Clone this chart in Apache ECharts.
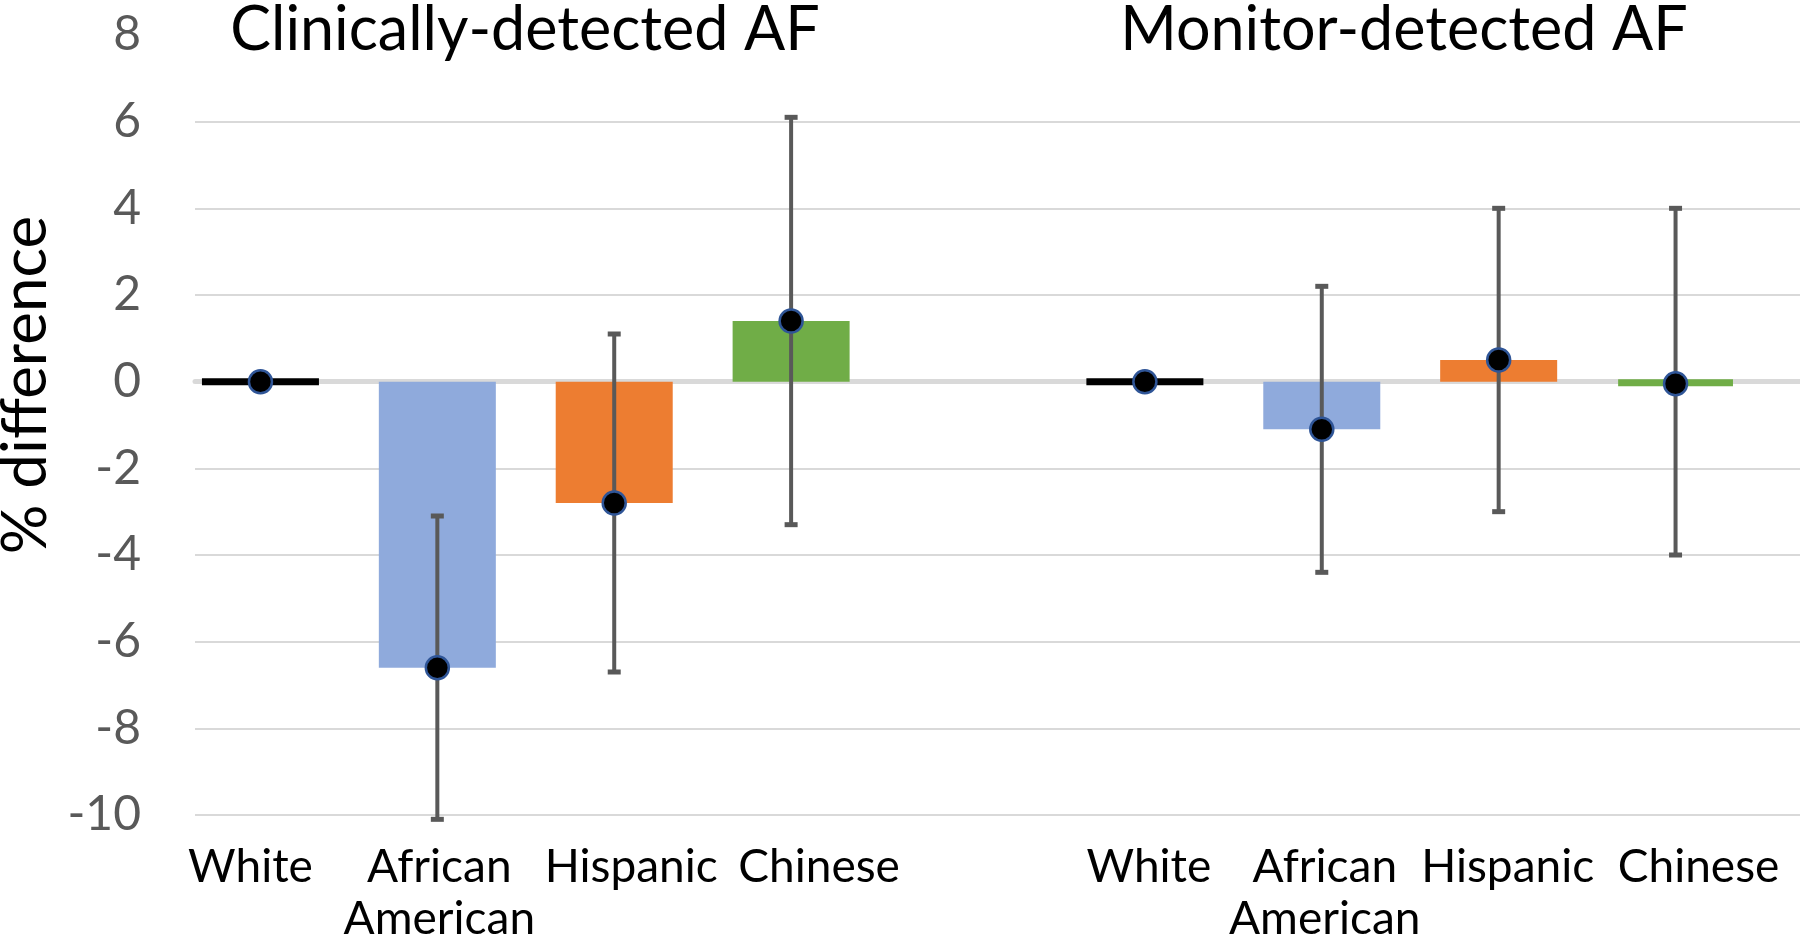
<!DOCTYPE html>
<html>
<head>
<meta charset="utf-8">
<title>AF % difference by race</title>
<script src="https://cdn.jsdelivr.net/npm/echarts@6/dist/echarts.min.js"></script>
<style>
html, body { margin: 0; padding: 0; background: #fff; }
#main { width: 1800px; height: 939px; }
</style>
</head>
<body>
<div id="main"></div>
<script>
// values
var panelTitles = ['Clinically-detected AF', 'Monitor-detected AF'];
var races = ['White', 'African\nAmerican', 'Hispanic', 'Chinese'];
var raceColors = ['#000000', '#8FAADC', '#ED7D31', '#70AD47'];

var clinicalEst = [0, -6.6, -2.8, 1.4];
var clinicalLow = [null, -10.1, -6.7, -3.3];
var clinicalHigh = [null, -3.1, 1.1, 6.1];

var monitorEst = [0, -1.1, 0.5, -0.05];
var monitorLow = [null, -4.4, -3.0, -4.0];
var monitorHigh = [null, 2.2, 4.0, 4.0];

var yMin = -10, yMax = 8, yStep = 2;

var font = 'Lato, "Liberation Sans", sans-serif';

// 9 slots: 4 races, empty gap, 4 races
var cats = races.concat([''], races);
var est = clinicalEst.concat([null], monitorEst);
var low = clinicalLow.concat([null], monitorLow);
var high = clinicalHigh.concat([null], monitorHigh);
var colors = raceColors.concat(['#ffffff'], raceColors);

// the original's labels sit a little off the bar centres
var labelShift = [-10, 2, 17, 28, 0, 4, 3, 9, 23];

var barData = est.map(function (v, i) {
    if (v === null) return '-';
    var flat = Math.abs(v) < 0.2; // flat bars show as a thick line
    return {
        value: v,
        itemStyle: { color: colors[i], borderColor: colors[i], borderWidth: flat ? 7 : 0 }
    };
});
var errData = [];
low.forEach(function (v, i) {
    if (v !== null) errData.push([i, v, high[i]]);
});
var dotData = est.map(function (v) { return v === null ? '-' : v; });

// top gridline (at 8) is not drawn in the original
var nLines = (yMax - yMin) / yStep + 1;
var splitColors = [];
for (var k = 0; k < nLines; k++) splitColors.push(k === nLines - 1 ? 'rgba(0,0,0,0)' : '#D9D9D9');

var labelRich = {};
labelShift.forEach(function (s, i) {
    labelRich['s' + i] = {
        fontSize: 46, fontFamily: font, color: '#000000', lineHeight: 52,
        padding: s >= 0 ? [0, 0, 0, 2 * s] : [0, -2 * s, 0, 0]
    };
});

var chart = echarts.init(document.getElementById('main'));

var option = {
    animation: false,
    backgroundColor: '#ffffff',
    grid: [
        { left: 195, right: 0, top: 35, bottom: 124, outerBoundsMode: 'none' },
        { left: 172, right: 36, top: 35, bottom: 124, outerBoundsMode: 'none' }
    ],
    xAxis: [
        {
            gridIndex: 0, type: 'category', data: [''],
            axisLine: { onZero: true, lineStyle: { color: '#D9D9D9', width: 5 } },
            axisTick: { show: false }, axisLabel: { show: false }
        },
        {
            gridIndex: 1, type: 'category', data: cats,
            axisLine: { show: false, onZero: false }, axisTick: { show: false },
            axisLabel: {
                interval: 0, margin: 26,
                formatter: function (value, idx) {
                    if (!value) return '';
                    return value.split('\n').map(function (line) {
                        return '{s' + idx + '|' + line + '}';
                    }).join('\n');
                },
                rich: labelRich
            }
        }
    ],
    yAxis: [
        {
            gridIndex: 0, type: 'value', min: yMin, max: yMax, interval: yStep,
            axisLine: { show: false }, axisTick: { show: false },
            axisLabel: { fontSize: 48, fontFamily: font, color: '#595959', margin: 54 },
            splitLine: { lineStyle: { color: splitColors, width: 2 } }
        },
        {
            gridIndex: 1, type: 'value', min: yMin, max: yMax, interval: yStep, show: false
        }
    ],
    graphic: [
        {
            type: 'text', x: 525, y: 30,
            style: { text: panelTitles[0], fill: '#000', font: '61px ' + font, textAlign: 'center', textVerticalAlign: 'middle' }
        },
        {
            type: 'text', x: 1404, y: 30,
            style: { text: panelTitles[1], fill: '#000', font: '61px ' + font, textAlign: 'center', textVerticalAlign: 'middle' }
        },
        {
            type: 'text', x: 26, y: 385, rotation: Math.PI / 2,
            style: { text: '% difference', fill: '#000', font: '62px ' + font, textAlign: 'center', textVerticalAlign: 'middle' }
        }
    ],
    series: [
        {
            type: 'bar', xAxisIndex: 1, yAxisIndex: 1,
            barWidth: 117, data: barData, z: 2
        },
        {
            type: 'custom', xAxisIndex: 1, yAxisIndex: 1, z: 3,
            data: errData,
            renderItem: function (params, api) {
                var top = api.coord([api.value(0), api.value(2)]);
                var bot = api.coord([api.value(0), api.value(1)]);
                var st = { stroke: '#595959', lineWidth: 4 };
                var capW = 13, capH = 5;
                return {
                    type: 'group',
                    children: [
                        { type: 'line', shape: { x1: top[0], y1: top[1], x2: bot[0], y2: bot[1] }, style: st },
                        { type: 'rect', shape: { x: top[0] - capW / 2, y: top[1] - capH / 2, width: capW, height: capH }, style: { fill: '#595959' } },
                        { type: 'rect', shape: { x: bot[0] - capW / 2, y: bot[1] - capH / 2, width: capW, height: capH }, style: { fill: '#595959' } }
                    ]
                };
            }
        },
        {
            type: 'scatter', xAxisIndex: 1, yAxisIndex: 1, z: 4,
            symbolSize: 23, data: dotData,
            itemStyle: { color: '#000000', borderColor: '#2F5597', borderWidth: 2.5, opacity: 1 }
        }
    ]
};
chart.setOption(option);
</script>
</body>
</html>
